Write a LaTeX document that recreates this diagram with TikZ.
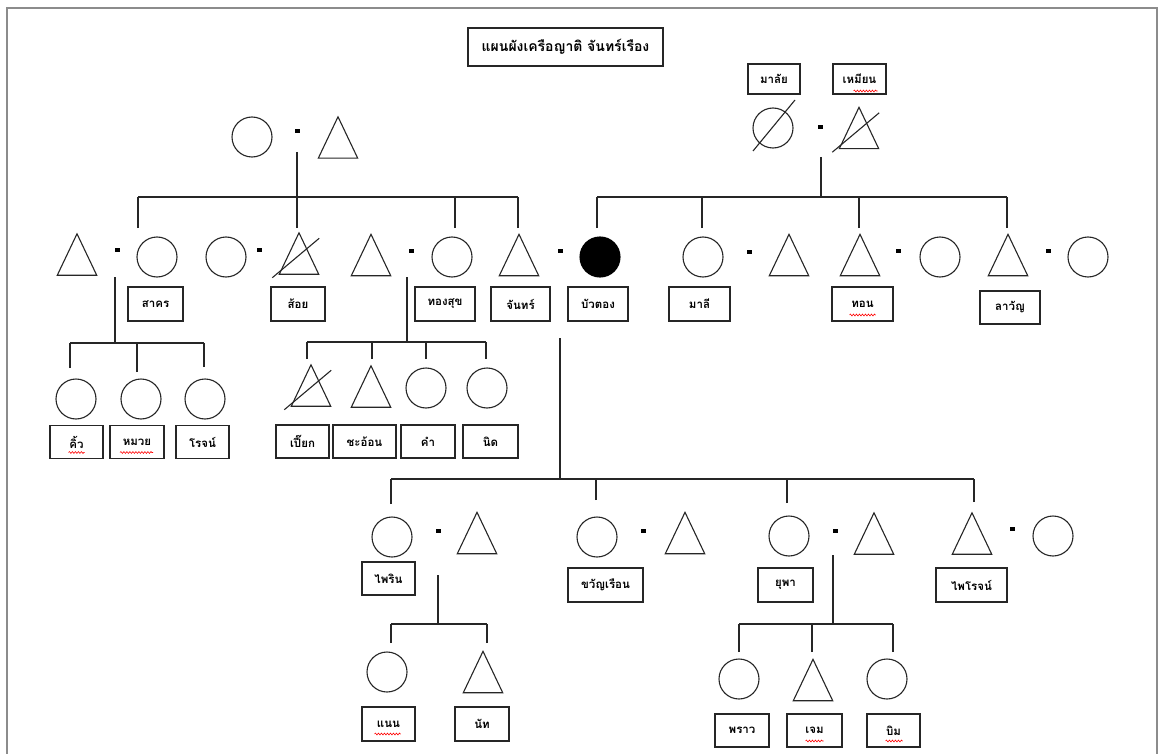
\documentclass[tikz,border=0pt]{standalone}
\usepackage{fontspec}
\newfontfamily\thai[Script=Thai]{Loma}
\usetikzlibrary{calc,decorations.pathmorphing}
\definecolor{framegray}{RGB}{140,140,140}
\tikzset{
  ln/.style={line width=1.1pt, draw=black!85},
  fem/.style={circle, draw=black!85, line width=1.1pt, minimum size=40pt, inner sep=0pt},
  femfill/.style={fem, fill=black, draw=black},
  malebox/.style={rectangle, minimum width=39pt, minimum height=41pt, inner sep=0pt},
  lab/.style={draw=black!85, line width=1.1pt, minimum height=34pt, inner sep=0pt, font=\thai\bfseries\fontsize{11.5}{13}\selectfont},
  dashmark/.style={fill=black, minimum width=5pt, minimum height=3.5pt, inner sep=0pt},
  spell/.style={draw=red, line width=0.6pt, decorate, decoration={snake, amplitude=0.9pt, segment length=3pt}},
}
\newcommand\male[3]{\node[malebox] (#1) at (#2,#3) {};
  \draw[ln] (#1.north) -- (#1.south east) -- (#1.south west) -- cycle;}
\newcommand\xmale[3]{\male{#1}{#2}{#3}
  \draw[ln] ($(#1.south west)+(-7,3.5)$) -- ($(#1.north east)+(0.5,5.5)$);}
\newcommand\spellmark[4]{\draw[spell] ($(#1.center)+(#2,#4)$) -- ($(#1.center)+(#3,#4)$);}
\begin{document}
\begin{tikzpicture}[x=1pt,y=-1pt]
\useasboundingbox (0,0) rectangle (1161,754);
% frame
\draw[framegray, line width=2pt] (7,754) -- (7,8) -- (1157,8) -- (1157,754);

% title
\node[lab, minimum width=195pt, minimum height=38pt, font=\thai\bfseries\fontsize{14}{16}\selectfont] (title) at (565.5,47) {แผนผังเครือญาติ จันทร์เรือง};

% ---------- grandparents left
\node[fem] (gpLf) at (252,137) {};
\node[dashmark] (gpLd) at (297,131) {};
\male{gpLm}{338}{137.5}

% ---------- grandparents right
\node[fem] (gpRf) at (773,128) {};
\draw[ln] ($(gpRf)+(-20,23)$) -- ($(gpRf)+(22,-28)$);
\node[dashmark] (gpRd) at (820,127) {};
\xmale{gpRm}{859}{128}
\node[lab, minimum width=52pt, minimum height=30pt] (lMalai) at (774,79) {มาลัย};
\node[lab, minimum width=53pt, minimum height=30pt] (lMian) at (859.5,79) {เหมียน};

% ---------- row 2
\male{a1}{77}{254.5}
\node[dashmark] (ad) at (117,250) {};
\node[fem] (a2) at (157,257) {};
\node[fem] (b1) at (226,257) {};
\node[dashmark] (bd) at (259,250) {};
\xmale{b2}{299}{253.5}
\male{c1}{371}{255}
\node[dashmark] (cd) at (411,251) {};
\node[fem] (c2) at (452,257) {};
\male{d1}{519}{255}
\node[dashmark] (dd) at (560,251) {};
\node[femfill] (d2) at (600,257) {};
\node[fem] (e1) at (703,257) {};
\node[dashmark] (ed) at (749,252) {};
\male{e2}{789}{255}
\male{f1}{860}{255}
\node[dashmark] (fd) at (898,251) {};
\node[fem] (f2) at (940,257) {};
\male{g1}{1008}{255}
\node[dashmark] (gd) at (1048,251) {};
\node[fem] (g2) at (1088,257) {};

\node[lab, minimum width=55pt] (lSakorn) at (155.5,304) {สาคร};
\node[lab, minimum width=54pt] (lSoy) at (298,304) {ส้อย};
\node[lab, minimum width=60pt] (lThongsuk) at (445,304) {ทองสุข};
\node[lab, minimum width=59pt] (lChan) at (520.5,304) {จันทร์};
\node[lab, minimum width=60pt] (lBuatong) at (598,304) {บัวตอง};
\node[lab, minimum width=61pt] (lMali) at (699.5,304) {มาลี};
\node[lab, minimum width=61pt] (lThon) at (862.5,304) {ทอน};
\node[lab, minimum width=60pt, minimum height=33pt] (lLawan) at (1010,307.5) {ลาวัญ};

% ---------- row 3 left
\node[fem] (k1) at (76,399) {};
\node[fem] (k2) at (141,399) {};
\node[fem] (k3) at (205,399) {};
\node[lab, minimum width=53pt, minimum height=33pt] (lKhiw) at (76.5,442) {คิ้ว};
\node[lab, minimum width=54pt, minimum height=33pt] (lMuay) at (137,442) {หมวย};
\node[lab, minimum width=53pt, minimum height=33pt] (lRot) at (202.5,442) {โรจน์};

% ---------- row 3 right
\xmale{m1}{311}{385.5}
\male{m2}{371}{386.5}
\node[fem] (m3) at (426,388) {};
\node[fem] (m4) at (487,388) {};
\node[lab, minimum width=53pt, minimum height=33pt] (lPiak) at (302.5,441.5) {เปี๊ยก};
\node[lab, minimum width=63pt, minimum height=33pt] (lChaon) at (364.5,441.5) {ชะอ้อน};
\node[lab, minimum width=54pt, minimum height=33pt] (lKham) at (428,441.5) {คำ};
\node[lab, minimum width=55pt, minimum height=33pt] (lNit) at (490.5,441.5) {นิด};

% ---------- row 4
\node[fem] (p1) at (392,537) {};
\node[dashmark] (pd) at (438,531) {};
\male{p2}{477}{533}
\node[fem] (q1) at (597,537) {};
\node[dashmark] (qd) at (643,531) {};
\male{q2}{685}{533}
\node[fem] (r1) at (789,536) {};
\node[dashmark] (rd) at (835,531) {};
\male{r2}{874}{533.5}
\male{s1}{972}{533.5}
\node[dashmark] (sd) at (1012,529) {};
\node[fem] (s2) at (1053,536) {};

\node[lab, minimum width=53pt, minimum height=33pt] (lPairin) at (388.5,578.5) {ไพริน};
\node[lab, minimum width=75pt] (lKhwan) at (605.5,585) {ขวัญเรือน};
\node[lab, minimum width=55pt] (lYupha) at (785.5,585) {ยุพา};
\node[lab, minimum width=71pt] (lPairot) at (971.5,585) {ไพโรจน์};

% ---------- row 5
\node[fem] (t1) at (387,672) {};
\male{t2}{483}{672}
\node[lab, minimum width=53pt] (lNaen) at (388.5,724) {แนน};
\node[lab, minimum width=54pt] (lNat) at (482,724) {นัท};
\node[fem] (u1) at (739,679) {};
\male{u2}{813}{680}
\node[fem] (u3) at (887,679) {};
\node[lab, minimum width=54pt, minimum height=33pt] (lPhrao) at (742,730.5) {พราว};
\node[lab, minimum width=55pt, minimum height=33pt] (lJem) at (814.5,730.5) {เจม};
\node[lab, minimum width=53pt, minimum height=33pt] (lBim) at (893.5,730.5) {บิม};

% ---------- spelling marks
\spellmark{lMian}{-6}{18}{12}
\spellmark{lThon}{-13}{13}{11}
\spellmark{lKhiw}{-8}{8}{10.5}
\spellmark{lMuay}{-17}{16}{10.5}
\spellmark{lNaen}{-14}{12}{10}
\spellmark{lJem}{-9}{9}{10.5}
\spellmark{lBim}{-8}{9}{10.5}

% ---------- connector coordinates
\coordinate (vL) at (297,152);
\coordinate (barLl) at (138,197);
\coordinate (barLr) at (518,197);
\coordinate (vR) at (821,157);
\coordinate (barRl) at (597,197);
\coordinate (barRr) at (1007,197);
\coordinate (dnA2) at (138,228);
\coordinate (dnB2) at (297,228);
\coordinate (dnC2) at (455,228);
\coordinate (dnD1) at (518,228);
\coordinate (dnD2) at (597,228);
\coordinate (dnE1) at (702,228);
\coordinate (dnF1) at (859,228);
\coordinate (dnG1) at (1007,228);

\coordinate (vA) at (115,277);
\coordinate (barAl) at (70,343);
\coordinate (barAr) at (204,343);
\coordinate (dnK1) at (70,368);
\coordinate (dnK2) at (137,372);
\coordinate (dnK3) at (204,367);

\coordinate (vC) at (407,277);
\coordinate (barCl) at (307,342);
\coordinate (barCr) at (486,342);
\coordinate (dnM1) at (307,359);
\coordinate (dnM2) at (372,359);
\coordinate (dnM3) at (426,359);
\coordinate (dnM4) at (486,359);

\coordinate (vD) at (560,338);
\coordinate (barDl) at (391,479);
\coordinate (barDr) at (974,479);
\coordinate (dnP1) at (391,504);
\coordinate (dnQ1) at (596,500);
\coordinate (dnR1) at (787,503);
\coordinate (dnS1) at (974,502);

\coordinate (vP) at (438,575);
\coordinate (barPl) at (391,624);
\coordinate (barPr) at (487,624);
\coordinate (dnT1) at (391,643);
\coordinate (dnT2) at (487,643);

\coordinate (vR2) at (833,555);
\coordinate (barRl2) at (739,624);
\coordinate (barRr2) at (893,624);
\coordinate (dnU1) at (739,652);
\coordinate (dnU2) at (812,652);
\coordinate (dnU3) at (893,652);

% ---------- connectors
\draw[ln] (vL) -- (vL |- barLl);
\draw[ln] (barLl) -- (barLr);
\foreach \c in {dnA2,dnB2,dnC2,dnD1} \draw[ln] (\c) -- (\c |- barLl);
\draw[ln] (vR) -- (vR |- barRl);
\draw[ln] (barRl) -- (barRr);
\foreach \c in {dnD2,dnE1,dnF1,dnG1} \draw[ln] (\c) -- (\c |- barRl);

\draw[ln] (vA) -- (vA |- barAl);
\draw[ln] (barAl) -- (barAr);
\foreach \c in {dnK1,dnK2,dnK3} \draw[ln] (\c) -- (\c |- barAl);

\draw[ln] (vC) -- (vC |- barCl);
\draw[ln] (barCl) -- (barCr);
\foreach \c in {dnM1,dnM2,dnM3,dnM4} \draw[ln] (\c) -- (\c |- barCl);

\draw[ln] (vD) -- (vD |- barDl);
\draw[ln] (barDl) -- (barDr);
\foreach \c in {dnP1,dnQ1,dnR1,dnS1} \draw[ln] (\c) -- (\c |- barDl);

\draw[ln] (vP) -- (vP |- barPl);
\draw[ln] (barPl) -- (barPr);
\foreach \c in {dnT1,dnT2} \draw[ln] (\c) -- (\c |- barPl);

\draw[ln] (vR2) -- (vR2 |- barRl2);
\draw[ln] (barRl2) -- (barRr2);
\foreach \c in {dnU1,dnU2,dnU3} \draw[ln] (\c) -- (\c |- barRl2);
\end{tikzpicture}
\end{document}
